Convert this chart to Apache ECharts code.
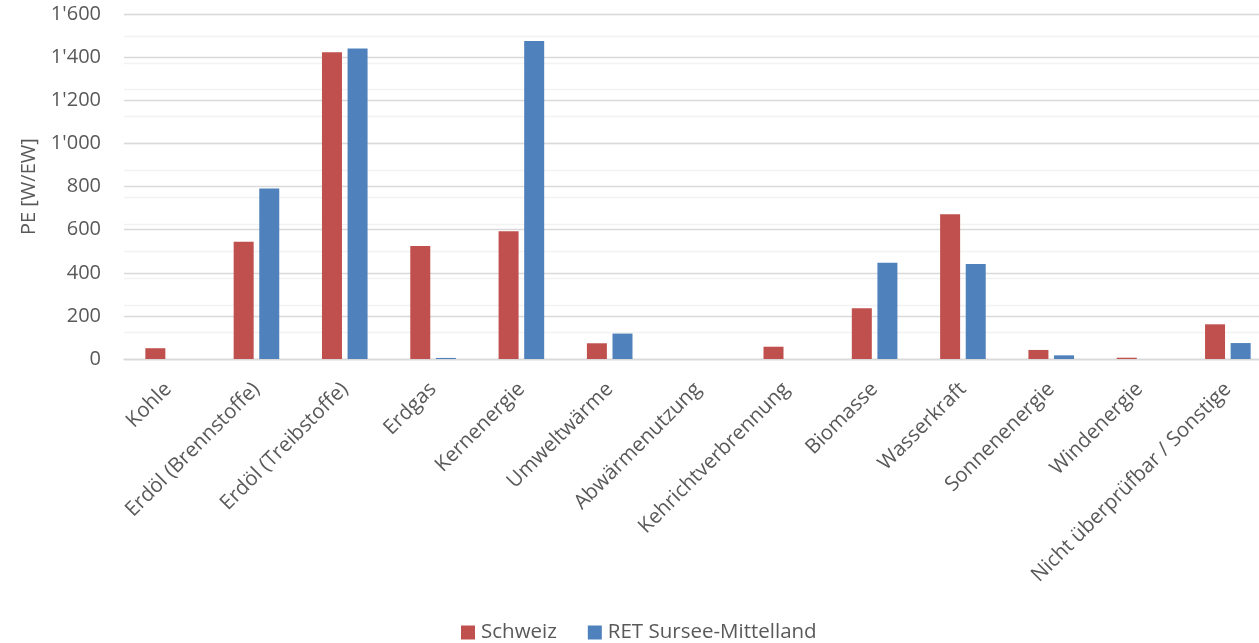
<!DOCTYPE html>
<html>
<head>
<meta charset="utf-8">
<script src="https://cdn.jsdelivr.net/npm/echarts@6/dist/echarts.min.js"></script>
<style>
html,body{margin:0;padding:0;background:#fff;overflow:hidden;}
#chart{width:1273px;height:643px;}
</style>
</head>
<body>
<div id="chart"></div>
<script>
const categories = ['Kohle','Erdöl (Brennstoffe)','Erdöl (Treibstoffe)','Erdgas','Kernenergie','Umweltwärme','Abwärmenutzung','Kehrichtverbrennung','Biomasse','Wasserkraft','Sonnenenergie','Windenergie','Nicht überprüfbar / Sonstige'];
const schweiz = [50, 544, 1424, 525, 593, 73, 0, 57, 235, 672, 42, 6, 161];
const ret = [0, 791, 1441, 5, 1476, 118, 0, 0, 447, 441, 17, 0, 74];
const seriesNames = ['Schweiz', 'RET Sursee-Mittelland'];
const yAxisName = 'PE [W/EW]';

const font = '"Open Sans", sans-serif';
const chart = echarts.init(document.getElementById('chart'));
function fmt(v){
  const s = String(v);
  return s.length > 3 ? s.slice(0, s.length-3) + "'" + s.slice(-3) : s;
}
chart.setOption({
  animation: false,
  textStyle: {fontFamily: font},
  grid: {left: 124, top: 14.3, width: 1148, height: 344.7, containLabel: false},
  legend: {
    left: 461, top: 622, padding: 0,
    itemWidth: 14, itemHeight: 14, itemGap: 31,
    icon: 'rect',
    textStyle: {fontSize: 20.5, color: '#595959', fontFamily: font, padding: [0,0,0,1]},
    data: seriesNames
  },
  xAxis: {
    type: 'category',
    data: categories,
    axisLine: {lineStyle: {color: '#d9d9d9', width: 1.3}},
    axisTick: {show: false},
    axisLabel: {rotate: 45, fontSize: 20.5, color: '#595959', margin: 27, interval: 0, fontFamily: font}
  },
  yAxis: [{
    type: 'value',
    min: 0, max: 1600, interval: 200,
    name: yAxisName,
    nameLocation: 'middle',
    nameGap: 85,
    nameTextStyle: {fontSize: 20, color: '#595959', fontFamily: font},
    axisLine: {show: false},
    axisTick: {show: false},
    axisLabel: {fontSize: 20, color: '#595959', margin: 23, formatter: fmt, fontFamily: font},
    splitLine: {lineStyle: {color: '#d9d9d9', width: 1.3}},
    z: 1
  }, {
    type: 'value',
    min: 0, max: 1600, interval: 125,
    position: 'left',
    axisLine: {show: false},
    axisTick: {show: false},
    axisLabel: {show: false},
    splitLine: {lineStyle: {color: '#f2f2f2', width: 1.3}},
    z: 0
  }],
  series: [{
    name: seriesNames[0],
    type: 'bar',
    data: schweiz,
    barWidth: 20,
    barGap: '28%',
    itemStyle: {color: '#C0504D'}
  }, {
    name: seriesNames[1],
    type: 'bar',
    data: ret,
    barWidth: 20,
    itemStyle: {color: '#4F81BD'}
  }]
});
</script>
</body>
</html>
